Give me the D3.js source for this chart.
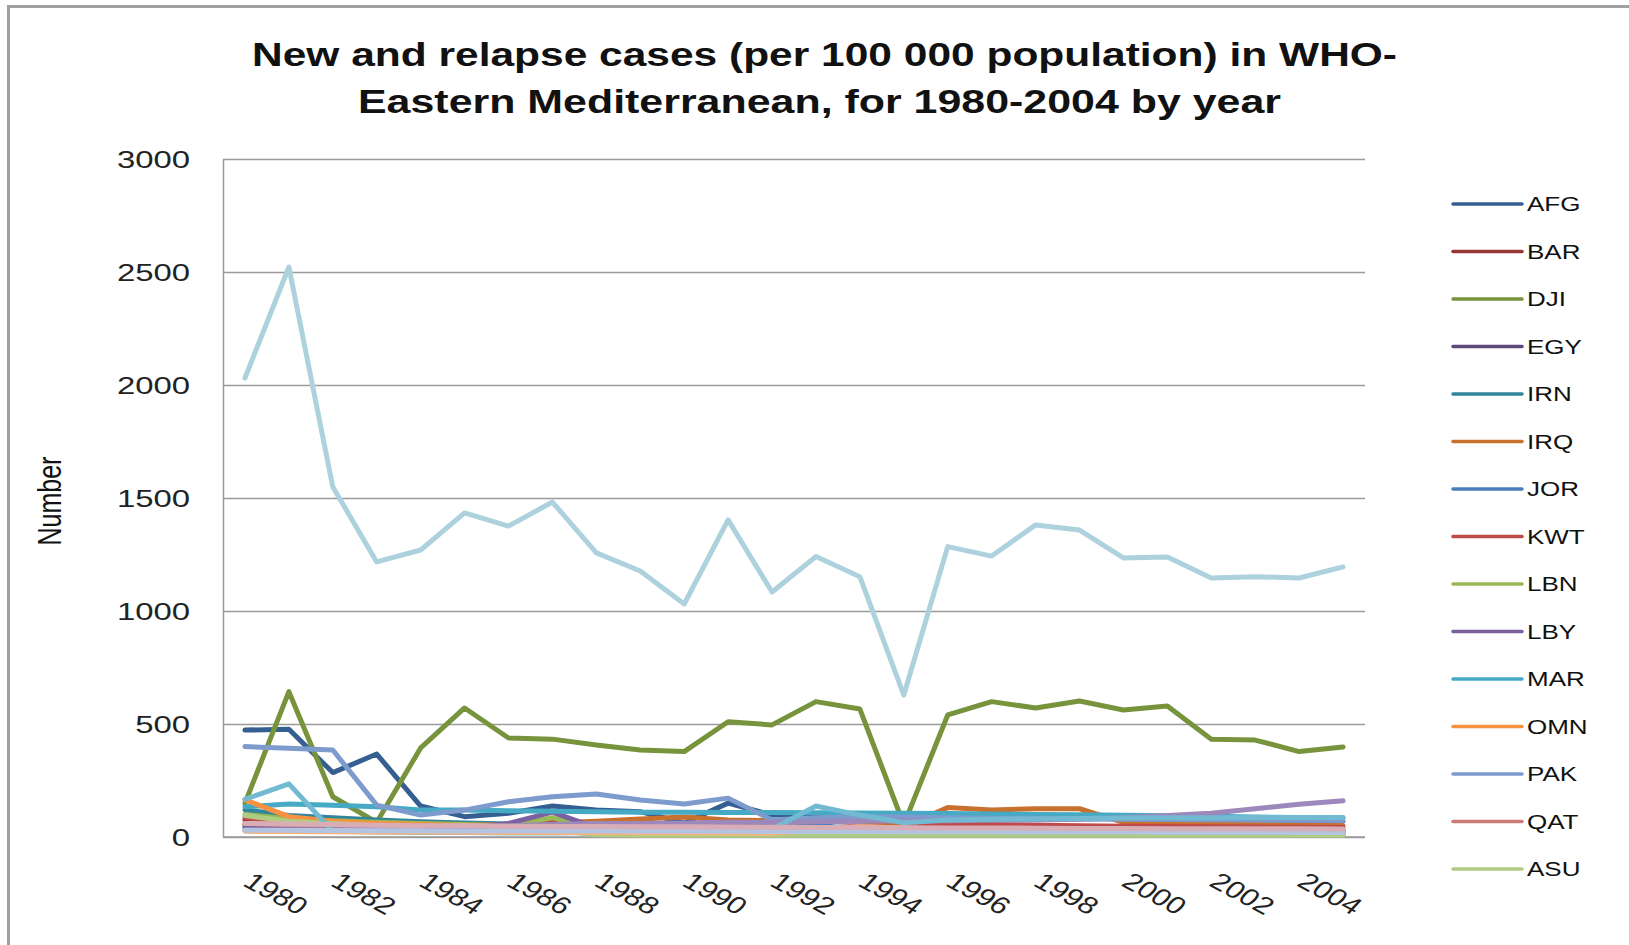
<!DOCTYPE html>
<html>
<head>
<meta charset="utf-8">
<script src="https://cdn.jsdelivr.net/npm/d3@7"></script>
<style>
  html, body { margin: 0; padding: 0; background: #fff; }
  svg { display: block; }
  text { font-family: "Liberation Sans", Arial, sans-serif; }
</style>
</head>
<body>
<svg id="chart" width="1629" height="945"></svg>
<script>
// ---------- data ----------
const years = [1980,1981,1982,1983,1984,1985,1986,1987,1988,1989,1990,1991,1992,1993,1994,1995,1996,1997,1998,1999,2000,2001,2002,2003,2004,2005];
const tickYears = [1980,1982,1984,1986,1988,1990,1992,1994,1996,1998,2000,2002,2004];
const yTicks = [0,500,1000,1500,2000,2500,3000];
const titleLines = ["New and relapse cases (per 100 000 population) in WHO-", "Eastern Mediterranean, for 1980-2004 by year"];
const yAxisTitle = "Number";

const seriesNames  = ["AFG","BAR","DJI","EGY","IRN","IRQ","JOR","KWT","LBN","LBY","MAR","OMN","PAK","QAT","ASU","SOM","SUD","SYR","TUN","UAE","YEM"];
const legendNames  = ["AFG","BAR","DJI","EGY","IRN","IRQ","JOR","KWT","LBN","LBY","MAR","OMN","PAK","QAT","ASU"];
const seriesColors = ["#365F91","#953735","#77933C","#5F497A","#31859C","#C8702E","#4A7EBB","#BE4B48","#98B954","#7D60A0","#46AAC5","#F69240","#7E9BCD","#CC7B79","#B0CB83","#9C88BA","#ADD1DD","#72BAD2","#F9B27A","#B3C3E0","#D8ADB6"];

const AFG = [473,477,285,367,137,90,105,137,119,112,62,150,97,100,98,95,92,90,88,85,82,80,78,75,72,70];
const BAR = [75,60,55,50,48,45,45,42,40,40,38,38,36,35,35,34,33,32,31,30,30,29,28,28,27,27];
const DJI = [150,643,178,65,394,571,438,433,407,385,378,510,496,599,566,55,540,599,571,602,562,580,433,429,378,398];
const EGY = [55,50,48,45,44,42,40,38,37,36,35,34,33,32,31,30,30,29,28,27,26,26,25,25,24,24];
const IRN = [120,95,85,75,68,62,58,55,52,50,48,46,45,44,43,42,41,40,38,37,36,35,34,33,32,31];
const IRQ = [55,50,48,45,45,48,55,62,70,80,88,75,72,75,70,45,130,120,125,125,65,62,58,55,52,50];
const JOR = [40,38,36,34,32,30,28,27,26,25,24,23,22,60,20,18,17,16,15,15,14,14,13,13,12,12];
const KWT = [85,70,65,60,58,55,52,70,50,48,46,45,44,42,41,40,60,55,52,50,48,46,45,44,43,42];
const LBN = [100,80,72,65,60,55,50,85,40,35,30,28,26,25,24,23,22,21,20,20,19,19,18,18,17,17];
const LBY = [45,42,40,38,36,34,60,110,40,38,36,34,33,32,31,30,30,29,28,28,27,27,26,26,25,25];
const MAR = [134,146,141,134,119,119,116,114,112,110,110,108,108,107,106,105,104,102,100,98,96,94,92,88,86,85];
const OMN = [165,90,70,60,55,50,45,42,40,38,36,35,34,33,32,31,30,29,28,27,26,25,24,23,22,21];
const PAK = [400,393,385,141,97,119,156,178,190,164,146,172,75,85,90,88,85,83,82,80,78,77,76,75,74,73];
const QAT = [60,55,52,50,48,46,44,55,42,40,38,37,36,35,50,34,33,32,31,30,30,29,29,28,28,27];
const ASU = [95,70,60,50,45,40,35,30,10,8,8,8,8,8,8,8,8,8,8,8,8,8,8,8,8,8];
const SOM = [30,30,30,35,40,45,50,55,60,60,62,65,65,68,70,72,72,74,75,78,85,95,105,125,145,160];
const SUD = [2031,2522,1549,1217,1270,1434,1376,1482,1257,1177,1031,1403,1084,1241,1152,628,1285,1243,1381,1358,1235,1239,1146,1152,1146,1195];
const SYR = [167,235,25,22,20,20,18,18,20,22,25,30,35,137,97,63,75,78,80,82,84,85,85,86,86,86];
const TUN = [25,24,23,22,22,21,20,20,20,19,19,18,18,30,45,40,35,35,33,32,30,30,28,28,27,27];
const UAE = [30,30,29,28,28,27,27,26,26,25,25,25,24,24,24,23,23,23,22,22,22,21,21,21,20,20];
const YEM = [60,58,55,52,50,50,48,47,46,45,45,44,43,42,42,41,40,40,39,38,38,37,37,36,36,35];

const seriesValues = [AFG,BAR,DJI,EGY,IRN,IRQ,JOR,KWT,LBN,LBY,MAR,OMN,PAK,QAT,ASU,SOM,SUD,SYR,TUN,UAE,YEM];

// ---------- layout ----------
const svg = d3.select("#chart");
const W = 1629, H = 945;
const plot = {left: 223, right: 1365, top: 159, bottom: 837};
const SX = 1.3; // horizontal stretch of the original picture

svg.append("rect").attr("width", W).attr("height", H).attr("fill", "#fff");
svg.append("rect").attr("x", 8.5).attr("y", 6.5).attr("width", W + 20).attr("height", H + 20)
  .attr("fill", "none").attr("stroke", "#a0a0a0").attr("stroke-width", 3);

const x = d3.scalePoint().domain(years).range([plot.left, plot.right]).padding(0.5);
const y = d3.scaleLinear().domain([0, 3000]).range([plot.bottom, plot.top]);

// y axis with gridlines
const yAxis = svg.append("g").attr("transform", `translate(${plot.left},0)`)
  .call(d3.axisLeft(y).tickValues(yTicks).tickFormat(d3.format("d"))
    .tickSize(-(plot.right - plot.left)).tickSizeOuter(0).tickPadding(33));
yAxis.select(".domain").attr("stroke", "#9a9a9a").attr("stroke-width", 1.5);
yAxis.selectAll(".tick line").attr("stroke", "#9a9a9a").attr("stroke-width", 1.3);
yAxis.selectAll(".tick text")
  .attr("x", 0).attr("dy", "0.36em").attr("text-anchor", "end")
  .attr("transform", `translate(-33,0) scale(1.37,1)`)
  .attr("font-size", 24).attr("fill", "#222");

// x axis
const xAxis = svg.append("g").attr("transform", `translate(0,${plot.bottom})`)
  .call(d3.axisBottom(x).tickValues(tickYears).tickSize(0).tickSizeOuter(0));
xAxis.select(".domain").attr("stroke", "#9a9a9a").attr("stroke-width", 1.5)
  .attr("d", `M${plot.left},0H${plot.right}`);
xAxis.selectAll(".tick text")
  .attr("x", 0).attr("y", 0).attr("dy", 0).attr("text-anchor", "start")
  .attr("transform", `translate(-4,48) scale(${SX},1) rotate(35)`)
  .attr("font-size", 24).attr("fill", "#222");

// lines
const line = d3.line().x((d, i) => x(years[i])).y(d => y(d));
svg.append("g").selectAll("path")
  .data(seriesValues)
  .join("path")
  .attr("d", d => line(d))
  .attr("fill", "none")
  .attr("stroke", (d, i) => seriesColors[i])
  .attr("stroke-width", 5)
  .attr("stroke-linejoin", "round")
  .attr("stroke-linecap", "round");

// title
svg.append("g").selectAll("text")
  .data(titleLines)
  .join("text")
  .attr("x", (d, i) => i === 0 ? 252 : 358)
  .attr("y", (d, i) => i === 0 ? 66 : 113)
  .attr("textLength", (d, i) => i === 0 ? 1145 : 923)
  .attr("lengthAdjust", "spacingAndGlyphs")
  .attr("font-size", 33).attr("font-weight", "bold").attr("fill", "#111")
  .text(d => d);

// y axis title
svg.append("text")
  .attr("transform", `translate(61,501) scale(${SX},1) rotate(-90)`)
  .attr("text-anchor", "middle")
  .attr("font-size", 25).attr("fill", "#111")
  .text(yAxisTitle);

// legend
const legend = svg.append("g");
const lg = legend.selectAll("g")
  .data(legendNames)
  .join("g")
  .attr("transform", (d, i) => `translate(1453,${204 + i * 47.5})`);
lg.append("line").attr("x1", 0).attr("x2", 69).attr("y1", 0).attr("y2", 0)
  .attr("stroke", (d, i) => seriesColors[i]).attr("stroke-width", 3.5).attr("stroke-linecap", "round");
lg.append("text")
  .attr("transform", `translate(74,0) scale(${SX},1)`)
  .attr("dy", "0.36em")
  .attr("font-size", 20).attr("fill", "#111")
  .text(d => d);
</script>
</body>
</html>
